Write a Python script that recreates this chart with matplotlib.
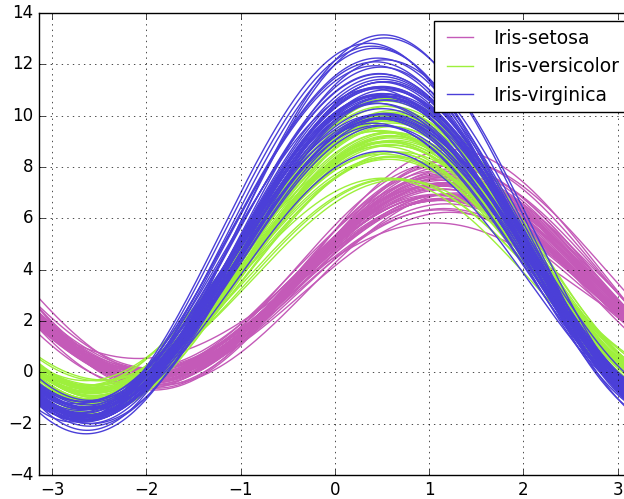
import numpy as np
import matplotlib
matplotlib.use("Agg")
import matplotlib.pyplot as plt

# Fisher iris measurements: sepal length, sepal width, petal length, petal width
sepal_length = [5.1, 4.9, 4.7, 4.6, 5.0, 5.4, 4.6, 5.0, 4.4, 4.9, 5.4, 4.8, 4.8, 4.3, 5.8, 5.7, 5.4, 5.1, 5.7, 5.1,
                5.4, 5.1, 4.6, 5.1, 4.8, 5.0, 5.0, 5.2, 5.2, 4.7, 4.8, 5.4, 5.2, 5.5, 4.9, 5.0, 5.5, 4.9, 4.4, 5.1,
                5.0, 4.5, 4.4, 5.0, 5.1, 4.8, 5.1, 4.6, 5.3, 5.0,
                7.0, 6.4, 6.9, 5.5, 6.5, 5.7, 6.3, 4.9, 6.6, 5.2, 5.0, 5.9, 6.0, 6.1, 5.6, 6.7, 5.6, 5.8, 6.2, 5.6,
                5.9, 6.1, 6.3, 6.1, 6.4, 6.6, 6.8, 6.7, 6.0, 5.7, 5.5, 5.5, 5.8, 6.0, 5.4, 6.0, 6.7, 6.3, 5.6, 5.5,
                5.5, 6.1, 5.8, 5.0, 5.6, 5.7, 5.7, 6.2, 5.1, 5.7,
                6.3, 5.8, 7.1, 6.3, 6.5, 7.6, 4.9, 7.3, 6.7, 7.2, 6.5, 6.4, 6.8, 5.7, 5.8, 6.4, 6.5, 7.7, 7.7, 6.0,
                6.9, 5.6, 7.7, 6.3, 6.7, 7.2, 6.2, 6.1, 6.4, 7.2, 7.4, 7.9, 6.4, 6.3, 6.1, 7.7, 6.3, 6.4, 6.0, 6.9,
                6.7, 6.9, 5.8, 6.8, 6.7, 6.7, 6.3, 6.5, 6.2, 5.9]
sepal_width = [3.5, 3.0, 3.2, 3.1, 3.6, 3.9, 3.4, 3.4, 2.9, 3.1, 3.7, 3.4, 3.0, 3.0, 4.0, 4.4, 3.9, 3.5, 3.8, 3.8,
               3.4, 3.7, 3.6, 3.3, 3.4, 3.0, 3.4, 3.5, 3.4, 3.2, 3.1, 3.4, 4.1, 4.2, 3.1, 3.2, 3.5, 3.1, 3.0, 3.4,
               3.5, 2.3, 3.2, 3.5, 3.8, 3.0, 3.8, 3.2, 3.7, 3.3,
               3.2, 3.2, 3.1, 2.3, 2.8, 2.8, 3.3, 2.4, 2.9, 2.7, 2.0, 3.0, 2.2, 2.9, 2.9, 3.1, 3.0, 2.7, 2.2, 2.5,
               3.2, 2.8, 2.5, 2.8, 2.9, 3.0, 2.8, 3.0, 2.9, 2.6, 2.4, 2.4, 2.7, 2.7, 3.0, 3.4, 3.1, 2.3, 3.0, 2.5,
               2.6, 3.0, 2.6, 2.3, 2.7, 3.0, 2.9, 2.9, 2.5, 2.8,
               3.3, 2.7, 3.0, 2.9, 3.0, 3.0, 2.5, 2.9, 2.5, 3.6, 3.2, 2.7, 3.0, 2.5, 2.8, 3.2, 3.0, 3.8, 2.6, 2.2,
               3.2, 2.8, 2.8, 2.7, 3.3, 3.2, 2.8, 3.0, 2.8, 3.0, 2.8, 3.8, 2.8, 2.8, 2.6, 3.0, 3.4, 3.1, 3.0, 3.1,
               3.1, 3.1, 2.7, 3.2, 3.3, 3.0, 2.5, 3.0, 3.4, 3.0]
petal_length = [1.4, 1.4, 1.3, 1.5, 1.4, 1.7, 1.4, 1.5, 1.4, 1.5, 1.5, 1.6, 1.4, 1.1, 1.2, 1.5, 1.3, 1.4, 1.7, 1.5,
                1.7, 1.5, 1.0, 1.7, 1.9, 1.6, 1.6, 1.5, 1.4, 1.6, 1.6, 1.5, 1.5, 1.4, 1.5, 1.2, 1.3, 1.5, 1.3, 1.5,
                1.3, 1.3, 1.3, 1.6, 1.9, 1.4, 1.6, 1.4, 1.5, 1.4,
                4.7, 4.5, 4.9, 4.0, 4.6, 4.5, 4.7, 3.3, 4.6, 3.9, 3.5, 4.2, 4.0, 4.7, 3.6, 4.4, 4.5, 4.1, 4.5, 3.9,
                4.8, 4.0, 4.9, 4.7, 4.3, 4.4, 4.8, 5.0, 4.5, 3.5, 3.8, 3.7, 3.9, 5.1, 4.5, 4.5, 4.7, 4.4, 4.1, 4.0,
                4.4, 4.6, 4.0, 3.3, 4.2, 4.2, 4.2, 4.3, 3.0, 4.1,
                6.0, 5.1, 5.9, 5.6, 5.8, 6.6, 4.5, 6.3, 5.8, 6.1, 5.1, 5.3, 5.5, 5.0, 5.1, 5.3, 5.5, 6.7, 6.9, 5.0,
                5.7, 4.9, 6.7, 4.9, 5.7, 6.0, 4.8, 4.9, 5.6, 5.8, 6.1, 6.4, 5.6, 5.1, 5.6, 6.1, 5.6, 5.5, 4.8, 5.4,
                5.6, 5.1, 5.1, 5.9, 5.7, 5.2, 5.0, 5.2, 5.4, 5.1]
petal_width = [0.2, 0.2, 0.2, 0.2, 0.2, 0.4, 0.3, 0.2, 0.2, 0.1, 0.2, 0.2, 0.1, 0.1, 0.2, 0.4, 0.4, 0.3, 0.3, 0.3,
               0.2, 0.4, 0.2, 0.5, 0.2, 0.2, 0.4, 0.2, 0.2, 0.2, 0.2, 0.4, 0.1, 0.2, 0.1, 0.2, 0.2, 0.1, 0.2, 0.2,
               0.3, 0.3, 0.2, 0.6, 0.4, 0.3, 0.2, 0.2, 0.2, 0.2,
               1.4, 1.5, 1.5, 1.3, 1.5, 1.3, 1.6, 1.0, 1.3, 1.4, 1.0, 1.5, 1.0, 1.4, 1.3, 1.4, 1.5, 1.0, 1.5, 1.1,
               1.8, 1.3, 1.5, 1.2, 1.3, 1.4, 1.4, 1.7, 1.5, 1.0, 1.1, 1.0, 1.2, 1.6, 1.5, 1.6, 1.5, 1.3, 1.3, 1.3,
               1.2, 1.4, 1.2, 1.0, 1.3, 1.2, 1.3, 1.3, 1.1, 1.3,
               2.5, 1.9, 2.1, 1.8, 2.2, 2.1, 1.7, 1.8, 1.8, 2.5, 2.0, 1.9, 2.1, 2.0, 2.4, 2.3, 1.8, 2.2, 2.3, 1.5,
               2.3, 2.0, 2.0, 1.8, 2.1, 1.8, 1.8, 1.8, 2.1, 1.6, 1.9, 2.0, 2.2, 1.5, 1.4, 2.3, 2.4, 1.8, 1.8, 2.1,
               2.4, 2.3, 1.9, 2.3, 2.5, 2.3, 1.9, 2.0, 2.3, 1.8]
species = ["Iris-setosa"] * 50 + ["Iris-versicolor"] * 50 + ["Iris-virginica"] * 50
class_names = ["Iris-setosa", "Iris-versicolor", "Iris-virginica"]
class_colors = ["#c45ab8", "#9ef03c", "#4b3fd8"]

plt.style.use("classic")
fig = plt.figure(figsize=(6.24, 4.99), dpi=100)
ax = fig.add_axes([0.062, 0.048, 0.949, 0.926])

t = np.linspace(-np.pi, np.pi, 200)
color_of = dict(zip(class_names, class_colors))
used = set()
for x1, x2, x3, x4, name in zip(sepal_length, sepal_width, petal_length, petal_width, species):
    # old pandas andrews_curves: with an even number of columns the last one
    # never gets a harmonic, so petal width drops out of the curve
    f = x1 / np.sqrt(2) + x2 * np.sin(t) + x3 * np.cos(t)
    label = name if name not in used else None
    used.add(name)
    ax.plot(t, f, color=color_of[name], lw=1, label=label)

ax.set_xlim(-np.pi, np.pi)
ax.set_ylim(-4, 14)
ax.set_yticks(range(-4, 15, 2))
ax.grid(True)
ax.legend(loc="upper right", fontsize=13.5, borderaxespad=0.2, bbox_to_anchor=(1.0, 0.99))

fig.savefig("out.png", dpi=100)
